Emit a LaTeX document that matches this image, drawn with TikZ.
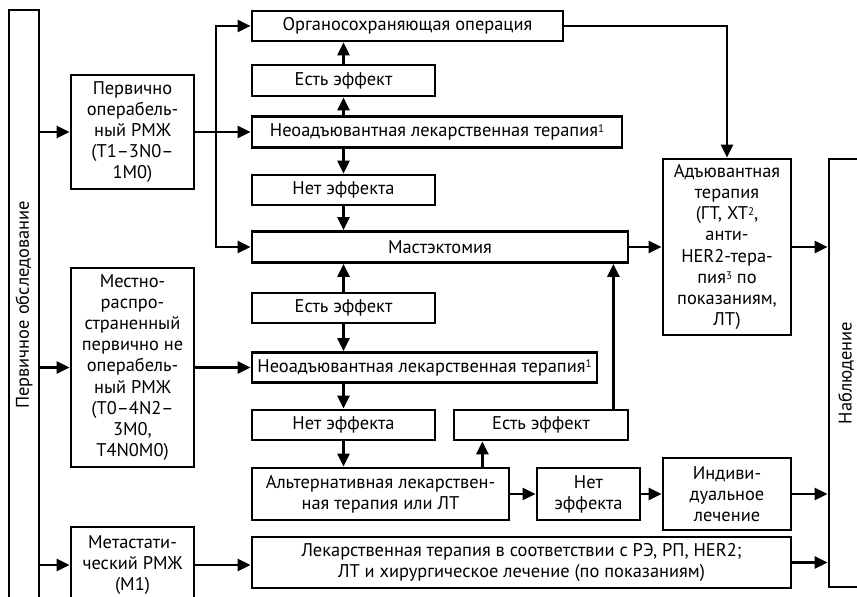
\documentclass[tikz,border=0pt]{standalone}
\usepackage{fontspec}
\setmainfont{PT Sans}
\usetikzlibrary{arrows.meta}
\newcommand{\fnmark}[1]{\raisebox{0.45ex}{\fontsize{5.5}{6}\selectfont #1}}

\begin{document}
\begin{tikzpicture}[x = 0.5pt, y = -0.5pt,
    every node/.style = {font=\fontsize{9.2}{10.6}\selectfont},
    box/.style = {draw, line width=1.4pt, inner sep=0pt, align=center},
    arr/.style = {line width=1.4pt, -{Triangle[length=6.5pt,width=6pt]}}]
        \useasboundingbox (0,0) rectangle (857,596);
        \clip (0,0) rectangle (857,596);
        % left and right bars
        \node[box, minimum width=15pt, minimum height=295pt] (obsl) at (24,305) {};
        \node[rotate=90] at (obsl.center) {Первичное обследование};
        \node[box, minimum width=17pt, minimum height=214pt] (nabl) at (846,373) {};
        \node[rotate=90] at (nabl.center) {Наблюдение};
        % groups
        \node[box, minimum width=61.5pt, minimum height=57pt]   (pervop) at (132.5,132)   {Первично\\операбель-\\ный РМЖ\\(T1–3N0–\\1M0)};
        \node[box, minimum width=61.5pt, minimum height=99.5pt] (mestno) at (132.5,367.5) {Местно-\\распро-\\страненный\\первично не\\операбель-\\ный РМЖ\\(T0–4N2–\\3M0,\\T4N0M0)};
        \node[box, minimum width=61.5pt, minimum height=38pt]   (metast) at (132.5,565)   {Метастати-\\ческий РМЖ\\(M1)};
        % upper branch
        \node[box, minimum width=155.5pt, minimum height=15pt]  (organ)  at (407.5,26)    {Органосохраняющая операция};
        \node[box, minimum width=91.5pt, minimum height=15.5pt] (est1)   at (343.5,80.5)  {Есть эффект};
        \node[box, minimum width=185pt, minimum height=15.5pt]  (neoad1) at (437,132)     {Неоадъювантная лекарственная терапия\fnmark{1}};
        \node[box, minimum width=91.5pt, minimum height=15pt]   (net1)   at (343.5,190)   {Нет эффекта};
        \node[box, minimum width=188pt, minimum height=15.5pt]  (mast)   at (440,247)     {Мастэктомия};
        \node[box, minimum width=64pt, minimum height=88pt]     (adj)    at (727,247)     {Адъювантная\\терапия\\(ГТ, ХТ\fnmark{2},\\анти-\\HER2-тера-\\пия\fnmark{3} по\\показаниям,\\ЛТ)};
        % lower branch
        \node[box, minimum width=91.5pt, minimum height=15pt]   (est2)   at (343.5,308)   {Есть эффект};
        \node[box, minimum width=172.5pt, minimum height=15pt]  (neoad2) at (424.5,367.5) {Неоадъювантная лекарственная терапия\fnmark{1}};
        \node[box, minimum width=91.5pt, minimum height=15pt]   (net2)   at (343.5,425)   {Нет эффекта};
        \node[box, minimum width=87pt, minimum height=15pt]     (est3)   at (541,425)     {Есть эффект};
        \node[box, minimum width=128.5pt, minimum height=26pt]  (alt)    at (380.5,494)   {Альтернативная лекарствен-\\ная терапия или ЛТ};
        \node[box, minimum width=51.5pt, minimum height=26pt]   (net3)   at (588.5,494)   {Нет\\эффекта};
        \node[box, minimum width=64pt, minimum height=36pt]     (indiv)  at (727,494)     {Индиви-\\дуальное\\лечение};
        \node[box, minimum width=269.5pt, minimum height=25.5pt] (lek)   at (521.5,562.5) {Лекарственная терапия в соответствии с РЭ, РП, HER2;\\ЛТ и хирургическое лечение (по показаниям)};
        \coordinate (split) at (216,132);
        \draw[arr] (obsl.east |- pervop.west) -- (pervop.west);
        \draw[arr] (obsl.east |- mestno.west) -- (mestno.west);
        \draw[arr] (obsl.east |- metast.west) -- (metast.west);
        \draw[arr] (pervop.east) -- (neoad1.west);
        \draw[arr] (split) |- (organ.west);
        \draw[arr] (split) |- (mast.west);
        \draw[arr] (neoad1.north -| est1) -- (est1.south);
        \draw[arr] (est1.north) -- (organ.south -| est1);
        \draw[arr] (neoad1.south -| net1) -- (net1.north);
        \draw[arr] (net1.south) -- (mast.north -| net1);
        \draw[arr] (organ.east) -| (adj.north);
        \draw[arr] (mast.east) -- (adj.west);
        \draw[arr] (adj.east) -- (adj.east -| nabl.west);
        \draw[arr] (est2.north) -- (mast.south -| est2);
        \draw[arr] (est2.south) -- (neoad2.north -| est2);
        \draw[arr] (mestno.east) -- (neoad2.west);
        \draw[arr] (neoad2.south -| net2) -- (net2.north);
        \draw[arr] (net2.south) -- (alt.north -| net2);
        \draw[arr] ([xshift=-14pt]alt.north east) -- ([xshift=-14pt]alt.north east |- est3.south);
        \draw[arr] ([xshift=-8pt]est3.north east) -- ([xshift=-8pt]est3.north east |- mast.south);
        \draw[arr] (alt.east) -- (net3.west);
        \draw[arr] (net3.east) -- (indiv.west);
        \draw[arr] (indiv.east) -- (indiv.east -| nabl.west);
        \draw[arr] (metast.east) -- (metast.east -| lek.west);
        \draw[arr] (lek.east) -- (lek.east -| nabl.west);
\end{tikzpicture}
\end{document}
